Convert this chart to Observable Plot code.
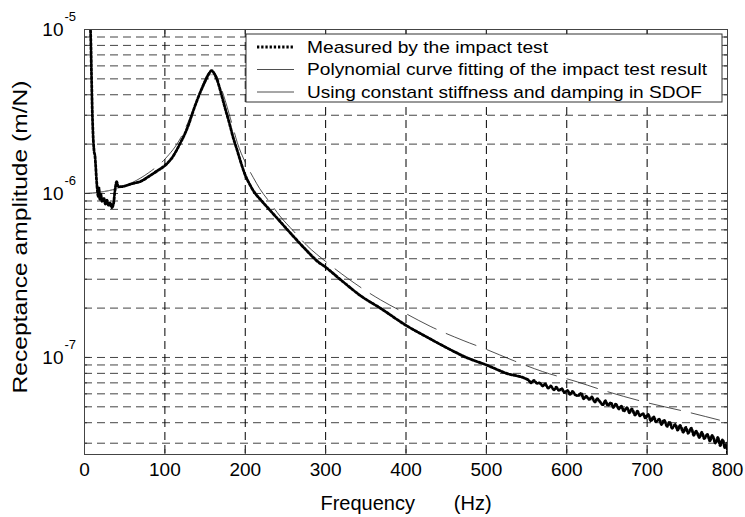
<!DOCTYPE html>
<html><head><meta charset="utf-8">
<script src="https://cdn.jsdelivr.net/npm/d3@7"></script>
<script src="https://cdn.jsdelivr.net/npm/@observablehq/plot@0.6"></script>
<style>body{margin:0;background:#fff}</style>
</head><body><div id="chart"></div>
<script>
// ---- data ----
const measFreq = [6,7,8,9,10,11,12,13,14,15,16,17,18,19,20,22,24,26,28,30,32,34,36,38,40,42,45,50,55,60,69,80,90,100,110,119,125,130,135,140,145,150,155,158,162,166,170,175,180,185,190,195,200,205,210,220,230,240,250,260,275,290,300,320,345,368,400,425,450,475,500,525,
  552,556,559,563,566,570,573,577,580,584,587,590,594,597,601,604,607,611,614,618,621,624,628,631,635,638,641,645,648,651,655,658,661,665,668,671,675,678,681,685,688,691,695,698,701,705,708,711,715,718,721,725,728,731,735,738,741,745,748,751,755,758,761,765,768,771,775,778,781,785,788,791,794,797,799,800];
const measAmp = [2.0e-5,1.2e-5,8.0e-6,4.5e-6,2.8e-6,2.1e-6,1.8e-6,1.7e-6,1.45e-6,1.2e-6,1.05e-6,9.6e-7,1.08e-6,9.2e-7,1.0e-6,8.9e-7,9.4e-7,8.6e-7,9.1e-7,8.4e-7,8.8e-7,8.2e-7,8.6e-7,1.05e-6,1.18e-6,1.1e-6,1.1e-6,1.11e-6,1.13e-6,1.15e-6,1.18e-6,1.27e-6,1.37e-6,1.48e-6,1.68e-6,2.02e-6,2.32e-6,2.67e-6,3.16e-6,3.69e-6,4.25e-6,4.82e-6,5.39e-6,5.62e-6,5.32e-6,4.76e-6,4.07e-6,3.3e-6,2.71e-6,2.19e-6,1.83e-6,1.52e-6,1.29e-6,1.15e-6,1.04e-6,9.06e-7,7.98e-7,7.04e-7,6.2e-7,5.47e-7,4.56e-7,3.85e-7,3.55e-7,2.94e-7,2.35e-7,2.0e-7,1.57e-7,1.34e-7,1.15e-7,1.0e-7,9.0e-8,8.0e-8,
  7.3e-8,7.0e-8,7.25e-8,6.95e-8,7.0e-8,6.7e-8,6.9e-8,6.5e-8,6.7e-8,6.35e-8,6.6e-8,6.3e-8,6.45e-8,6.1e-8,6.3e-8,5.95e-8,6.2e-8,5.9e-8,5.85e-8,6.05e-8,5.6e-8,5.8e-8,5.55e-8,5.75e-8,5.35e-8,5.6e-8,5.4e-8,5.15e-8,5.45e-8,5.1e-8,5.3e-8,4.95e-8,5.2e-8,4.85e-8,5.05e-8,4.7e-8,4.95e-8,4.6e-8,4.85e-8,4.45e-8,4.7e-8,4.4e-8,4.55e-8,4.25e-8,4.5e-8,4.1e-8,4.35e-8,4.05e-8,4.2e-8,3.9e-8,4.15e-8,3.8e-8,4.05e-8,3.7e-8,3.9e-8,3.6e-8,3.85e-8,3.5e-8,3.75e-8,3.45e-8,3.7e-8,3.35e-8,3.55e-8,3.25e-8,3.5e-8,3.2e-8,3.4e-8,3.1e-8,3.35e-8,3.0e-8,3.25e-8,2.9e-8,3.15e-8,2.8e-8,3.0e-8,2.6e-8];

const polyFreq = [0,10,20,30,40,50,60,80,100,119,130,140,150,156,160,166,175,185,195,210,230,260,300,345,400,500,600,700,800];
const polyAmp  = [1.0e-6,1.0e-6,1.02e-6,1.04e-6,1.07e-6,1.1e-6,1.14e-6,1.26e-6,1.47e-6,2.0e-6,2.65e-6,3.65e-6,4.75e-6,5.3e-6,5.3e-6,4.8e-6,3.4e-6,2.25e-6,1.55e-6,1.05e-6,8.0e-7,5.5e-7,3.55e-7,2.35e-7,1.57e-7,9.0e-8,6.1e-8,4.4e-8,3.0e-8];

const sdofFreq = [0,20,40,60,80,100,120,130,140,150,155,158,162,166,170,175,180,185,190,200,210,218,230,243,260,277,300,327,350,368,400,430,471,500,533,570,613,650,700,750,790];
const sdofAmp  = [1.0e-6,1.02e-6,1.07e-6,1.17e-6,1.34e-6,1.62e-6,2.2e-6,2.8e-6,3.7e-6,5.0e-6,5.5e-6,5.6e-6,5.45e-6,5.0e-6,4.4e-6,3.7e-6,3.05e-6,2.5e-6,2.05e-6,1.55e-6,1.25e-6,1.07e-6,8.9e-7,7.3e-7,5.9e-7,4.8e-7,3.85e-7,3.05e-7,2.55e-7,2.25e-7,1.85e-7,1.55e-7,1.27e-7,1.12e-7,9.6e-8,8.2e-8,7.1e-8,6.2e-8,5.3e-8,4.65e-8,4.15e-8];

const seriesNames = ["Measured by the impact test","Polynomial curve fitting of the impact test result","Using constant stiffness and damping in SDOF"];
const xTicks = [0,100,200,300,400,500,600,700,800];
const xGrid = [100,200,300,400,500,600,700];
const decades = [1e-7,1e-6,1e-5];
const decadeExp = ["-7","-6","-5"];
const yGrid = [3e-8,4e-8,5e-8,6e-8,7e-8,8e-8,9e-8,1e-7,2e-7,3e-7,4e-7,5e-7,6e-7,7e-7,8e-7,9e-7,1e-6,2e-6,3e-6,4e-6,5e-6,6e-6,7e-6,8e-6,9e-6];
const xTitle = "Frequency       (Hz)";
const yTitle = "Receptance amplitude (m/N)";

// ---- build ----
const toRows = (fs, vs) => fs.map((f, i) => ({f, v: vs[i]}));
const measured = toRows(measFreq, measAmp);
const poly = toRows(polyFreq, polyAmp);
const sdof = toRows(sdofFreq, sdofAmp);

const W = 745, H = 517, mL = 84, mR = 18, mT = 29, mB = 63;
const innerW = W - mL - mR, innerH = H - mT - mB;
const font = "'Liberation Sans', Arial, Helvetica, sans-serif";
const measDash = "2.3,1.9";

const chart = Plot.plot({
  width: W, height: H,
  marginLeft: mL, marginRight: mR, marginTop: mT, marginBottom: mB,
  style: {fontFamily: font, background: "white", color: "black", overflow: "visible"},
  x: {domain: [0, 800]},
  y: {type: "log", domain: [2.56e-8, 1e-5], axis: null},
  marks: [
    Plot.ruleY(yGrid, {stroke: "#444", strokeWidth: 1, strokeDasharray: "8,5"}),
    Plot.ruleX(xGrid, {stroke: "#000", strokeWidth: 1, strokeDasharray: "8,5"}),
    Plot.line(sdof, {x: "f", y: "v", stroke: "#222", strokeWidth: 0.8, strokeDasharray: "32,11", curve: "monotone-x", clip: true}),
    Plot.line(poly, {x: "f", y: "v", stroke: "#888", strokeWidth: 0.7, curve: "monotone-x", clip: true}),
    Plot.line(measured, {x: "f", y: "v", stroke: "#000", strokeWidth: 2.8, strokeDasharray: measDash, curve: "monotone-x", clip: true}),
    // inward ticks
    Plot.ruleX(xTicks, {stroke: "#333", insetTop: innerH - 5}),
    Plot.ruleX(xTicks, {stroke: "#333", insetBottom: innerH - 5}),
    Plot.ruleY(yGrid, {stroke: "#333", insetRight: innerW - 3}),
    Plot.ruleY(yGrid, {stroke: "#333", insetLeft: innerW - 3}),
    Plot.ruleY(decades, {stroke: "#333", insetRight: innerW - 6}),
    Plot.ruleY(decades, {stroke: "#333", insetLeft: innerW - 6}),
    Plot.frame({stroke: "#444"}),
    Plot.axisX(xTicks, {tickSize: 0, tickPadding: 8, fontSize: 19, label: null}),
    Plot.text(decades, {y: d => d, text: () => "10", frameAnchor: "left", textAnchor: "end", dx: -21, fontSize: 19}),
    Plot.text(decades, {y: d => d, text: (d, i) => decadeExp[i], frameAnchor: "left", textAnchor: "start", dx: -20, dy: -13, fontSize: 13})
  ]
});
document.getElementById("chart").append(chart);

const svg = d3.select(chart);
// axis titles
svg.append("text")
  .attr("x", 406).attr("y", 510)
  .attr("text-anchor", "middle")
  .style("white-space", "pre")
  .attr("font-family", font).attr("font-size", 20)
  .text(xTitle);
svg.append("text")
  .attr("transform", "translate(20,237) rotate(-90)")
  .attr("text-anchor", "middle").attr("dominant-baseline", "central")
  .attr("font-family", font).attr("font-size", 20)
  .attr("textLength", 313).attr("lengthAdjust", "spacingAndGlyphs")
  .text(yTitle);

// legend
const lg = svg.append("g");
lg.append("rect").attr("x", 246).attr("y", 34).attr("width", 476).attr("height", 68)
  .attr("fill", "white").attr("stroke", "#333").attr("stroke-width", 1);
const styles = [
  {w: 2.8, dash: measDash, c: "#000"},
  {w: 0.8, dash: null, c: "#222"},
  {w: 0.8, dash: "40,11", c: "#222"}
];
const textLens = [241, 400, 395];
seriesNames.forEach((name, i) => {
  const y = 47 + i * 22.5;
  lg.append("line").attr("x1", 257).attr("x2", 294).attr("y1", y).attr("y2", y)
    .attr("stroke", styles[i].c).attr("stroke-width", styles[i].w)
    .attr("stroke-dasharray", styles[i].dash);
  lg.append("text").attr("x", 307).attr("y", y).attr("dominant-baseline", "central")
    .attr("text-anchor", "start")
    .attr("font-family", font).attr("font-size", 17)
    .attr("textLength", textLens[i]).attr("lengthAdjust", "spacingAndGlyphs")
    .text(name);
});
</script>
</body></html>
